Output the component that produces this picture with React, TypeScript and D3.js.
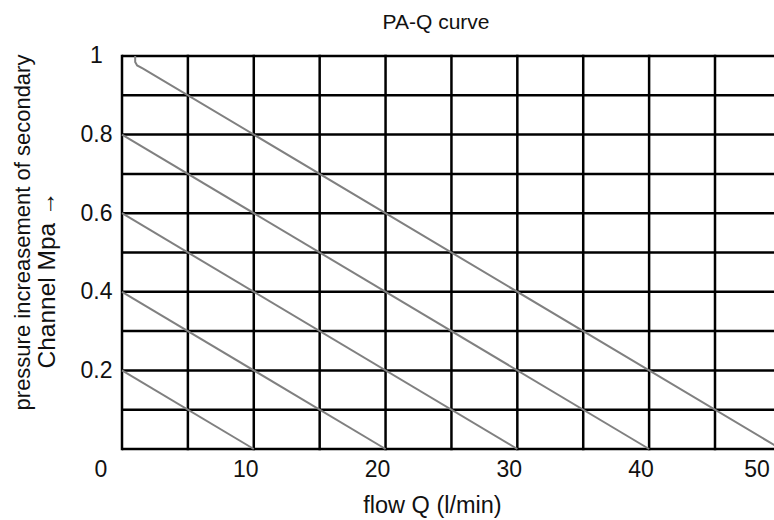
import React from "react";
import * as d3 from "d3";

const title = "PA-Q curve";
const xTitle = "flow Q (l/min)";
const yTitle1 = "pressure increasement of secondary";
const yTitle2 = "Channel Mpa \u2192";

const xTicks = [0, 10, 20, 30, 40, 50];
const yTicks = [0.2, 0.4, 0.6, 0.8, 1];
const xGrid = [0, 5, 10, 15, 20, 25, 30, 35, 40, 45, 50];
const yGrid = [0, 0.1, 0.2, 0.3, 0.4, 0.5, 0.6, 0.7, 0.8, 0.9, 1];

// pressure lines (flow, pressure)
const line02: [number, number][] = [[0, 0.2], [10, 0]];
const line04: [number, number][] = [[0, 0.4], [20, 0]];
const line06: [number, number][] = [[0, 0.6], [30, 0]];
const line08: [number, number][] = [[0, 0.8], [40, 0]];
const line10: [number, number][] = [[1.0, 1.0], [1.0, 0.985], [1.15, 0.976], [1.6, 0.968], [50, 0]];
const curves = [line02, line04, line06, line08, line10];

export default function App() {
  const W = 774, H = 520;
  const x = d3.scaleLinear().domain([0, 45]).range([122, 715]);
  const y = d3.scaleLinear().domain([0, 1]).range([449, 56]);
  const line = d3.line<[number, number]>().x(d => x(d[0])).y(d => y(d[1]));
  const font = "'Liberation Sans', Arial, sans-serif";

  return (
    <svg width={W} height={H} style={{ position: "absolute", left: 0, top: 0, background: "#fff" }}
      fontFamily={font}>
      <rect x={0} y={0} width={W} height={H} fill="#fff" />
      <text x={436} y={29} textAnchor="middle" fontSize={21} fill="#111">{title}</text>
      {yGrid.map(v => (
        <line key={"h" + v} x1={x(0)} x2={x(50)} y1={y(v)} y2={y(v)} stroke="#000" strokeWidth={2.5} />
      ))}
      {xGrid.map(v => (
        <line key={"v" + v} x1={x(v)} x2={x(v)} y1={y(0) + 1.25} y2={y(1) - 1.25} stroke="#000" strokeWidth={2.5} />
      ))}
      {curves.map((c, i) => (
        <path key={"c" + i} d={line(c) || ""} fill="none" stroke="#808080" strokeWidth={2} />
      ))}
      {xTicks.map(v => (
        <text key={"xt" + v} x={Math.min(x(v) + (v === 0 ? -21 : -8), 757)} y={476.7}
          textAnchor="middle" fontSize={23} fill="#111">{v}</text>
      ))}
      {yTicks.map(v => (
        <text key={"yt" + v} x={96.5} y={y(v) + 7.3} textAnchor="middle" fontSize={23} fill="#111">{v}</text>
      ))}
      <text x={432.5} y={513} textAnchor="middle" fontSize={23.5} fill="#111">{xTitle}</text>
      <text transform={`translate(30,232.5) rotate(-90)`} textAnchor="middle" fontSize={22} fill="#111">{yTitle1}</text>
      <text transform={`translate(55,280) rotate(-90)`} textAnchor="middle" fontSize={24.5} fill="#111">{yTitle2}</text>
    </svg>
  );
}
